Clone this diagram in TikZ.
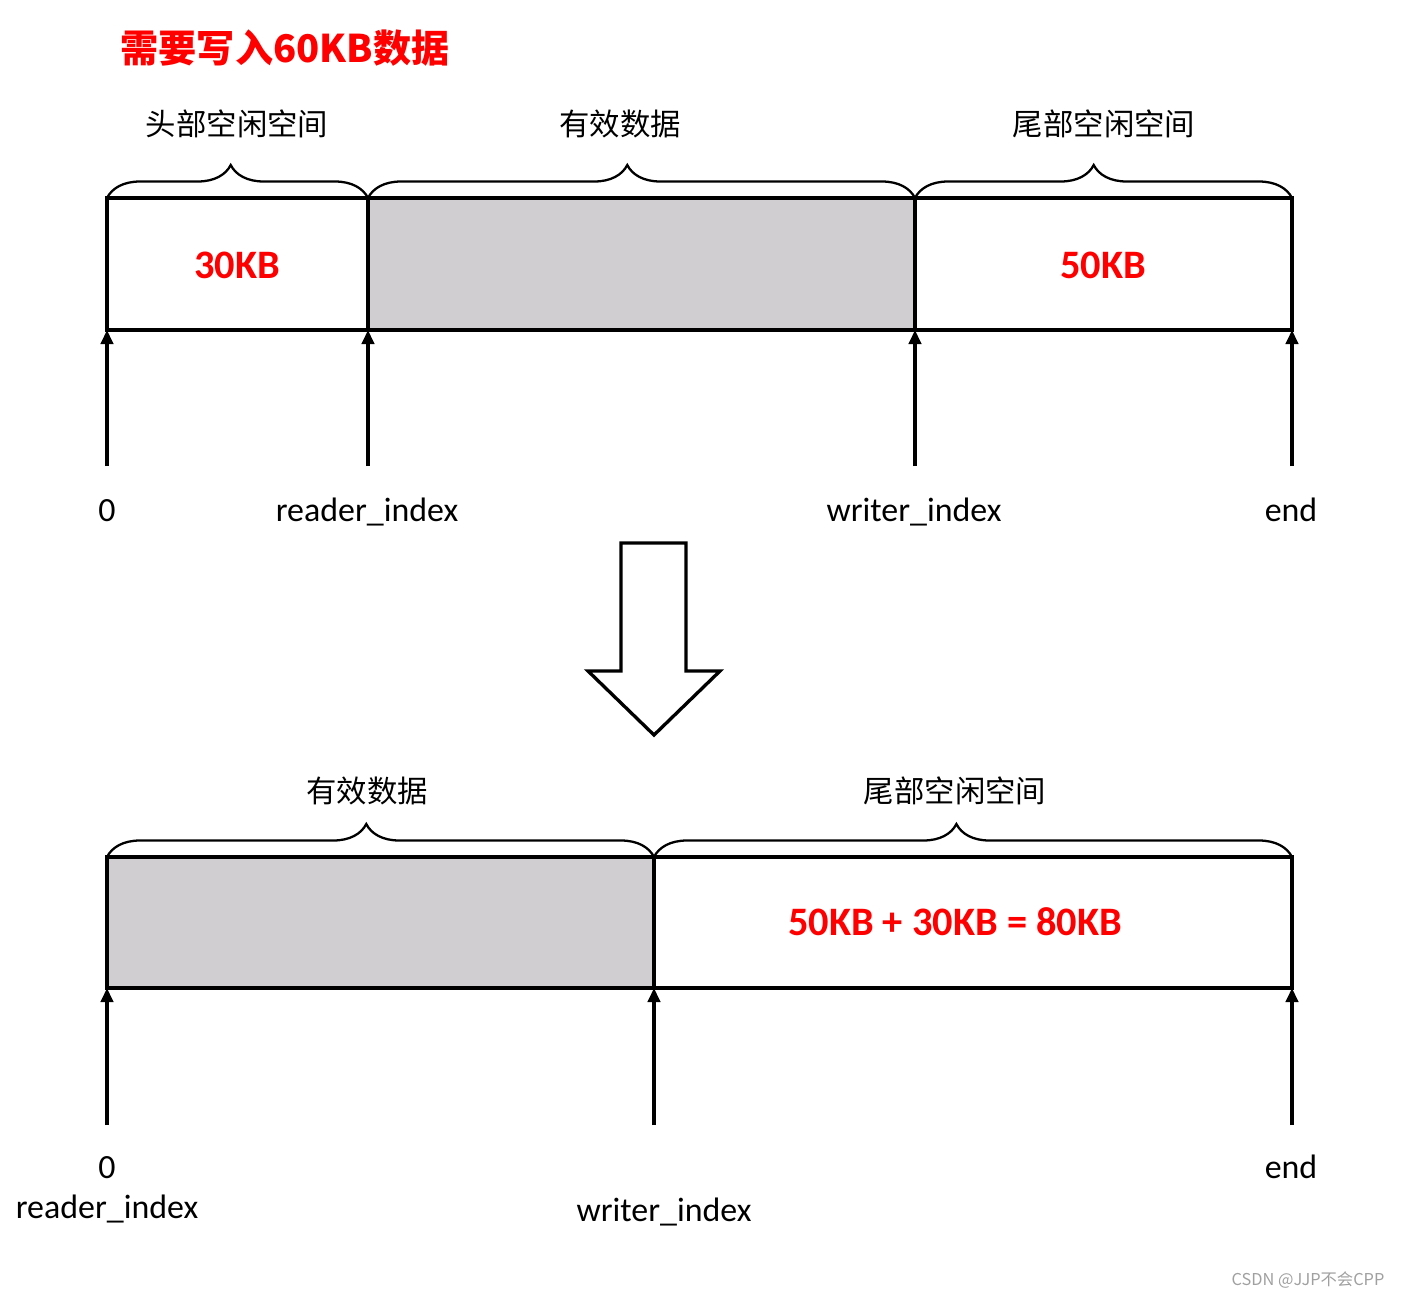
\documentclass[tikz,border=0pt]{standalone}
\usepackage{fontspec}
\setmainfont{Carlito}
\newfontfamily\cjk{Noto Sans CJK SC}
\usetikzlibrary{arrows.meta,decorations.pathreplacing}
\definecolor{usedgray}{RGB}{208,206,208}
\definecolor{markgray}{RGB}{160,160,160}
\begin{document}
\begin{tikzpicture}[x=0.02cm,y=-0.02cm,
  cell/.style={line width=1.9pt},
  ptr/.style={line width=1.9pt,-{Triangle[length=8pt,width=7pt]}},
  brc/.style={decorate,decoration={brace,amplitude=0.66cm,aspect=0.474},line width=1.3pt},
  part/.style={font=\cjk\fontsize{17.3}{20}\selectfont},
  idx/.style={anchor=base,font=\fontsize{19.3}{23}\selectfont},
  kb/.style={font=\bfseries\fontsize{23}{27}\selectfont,text=red}]
 \useasboundingbox (0,0) rectangle (1401,1298);
 \node[font=\cjk\bfseries\fontsize{21.7}{25}\selectfont,text=red] (title) at (285,48) {需要写入60KB数据};
 \coordinate (t0) at (107,198);
 \coordinate (t1) at (368,198);
 \coordinate (t2) at (915,198);
 \coordinate (t3) at (1292,198);
 \coordinate (b0) at (107,330);
 \coordinate (b1) at (368,330);
 \coordinate (b2) at (915,330);
 \coordinate (b3) at (1292,330);
 \coordinate (p0) at (107,466);
 \coordinate (p1) at (368,466);
 \coordinate (p2) at (915,466);
 \coordinate (p3) at (1292,466);
 \fill[usedgray] (t1) rectangle (b2);
 \draw[cell] (t0) rectangle (b3);
 \draw[cell] (t1) -- (b1);
 \draw[cell] (t2) -- (b2);
 \draw[brc] (t0) -- (t1);
 \draw[brc] (t1) -- (t2);
 \draw[brc] (t2) -- (t3);
 \node[part] (head) at (237,124) {头部空闲空间};
 \node[part] (data) at (620,124) {有效数据};
 \node[part] (tail) at (1104,124) {尾部空闲空间};
 \node[kb] (headkb) at (237,265) {30KB};
 \node[kb] (tailkb) at (1103,265) {50KB};
 \draw[ptr] (p0) -- (b0);
 \draw[ptr] (p1) -- (b1);
 \draw[ptr] (p2) -- (b2);
 \draw[ptr] (p3) -- (b3);
 \node[idx] (zero) at (107,521) {0};
 \node[idx] (rd) at (367,521) {reader\_index};
 \node[idx] (wr) at (914,521) {writer\_index};
 \node[idx] (fin) at (1291,521) {end};
 \draw[line width=1.9pt,line join=miter,fill=white] (621,543) -- (686,543) -- (686,671) -- (720,671)
   -- (654,735) -- (588,671) -- (621,671) -- cycle;
 \coordinate (l0) at (107,857);
 \coordinate (l1) at (654,857);
 \coordinate (l2) at (1292,857);
 \coordinate (m0) at (107,988);
 \coordinate (m1) at (654,988);
 \coordinate (m2) at (1292,988);
 \coordinate (q0) at (107,1125);
 \coordinate (q1) at (654,1125);
 \coordinate (q2) at (1292,1125);
 \fill[usedgray] (l0) rectangle (m1);
 \draw[cell] (l0) rectangle (m2);
 \draw[cell] (l1) -- (m1);
 \draw[brc] (l0) -- (l1);
 \draw[brc] (l1) -- (l2);
 \node[part] (data2) at (367,791) {有效数据};
 \node[part] (tail2) at (955,791) {尾部空闲空间};
 \node[kb] (sumkb) at (955,922) {50KB + 30KB = 80KB};
 \draw[ptr] (q0) -- (m0);
 \draw[ptr] (q1) -- (m1);
 \draw[ptr] (q2) -- (m2);
 \node[idx] (zero2) at (107,1178) {0};
 \node[idx] (rd2) at (107,1218) {reader\_index};
 \node[idx] (wr2) at (664,1221) {writer\_index};
 \node[idx] (fin2) at (1291,1178) {end};
 \node[font=\cjk\fontsize{9.3}{11}\selectfont,text=markgray] (mark) at (1308,1280) {CSDN @JJP不会CPP};
\end{tikzpicture}
\end{document}
